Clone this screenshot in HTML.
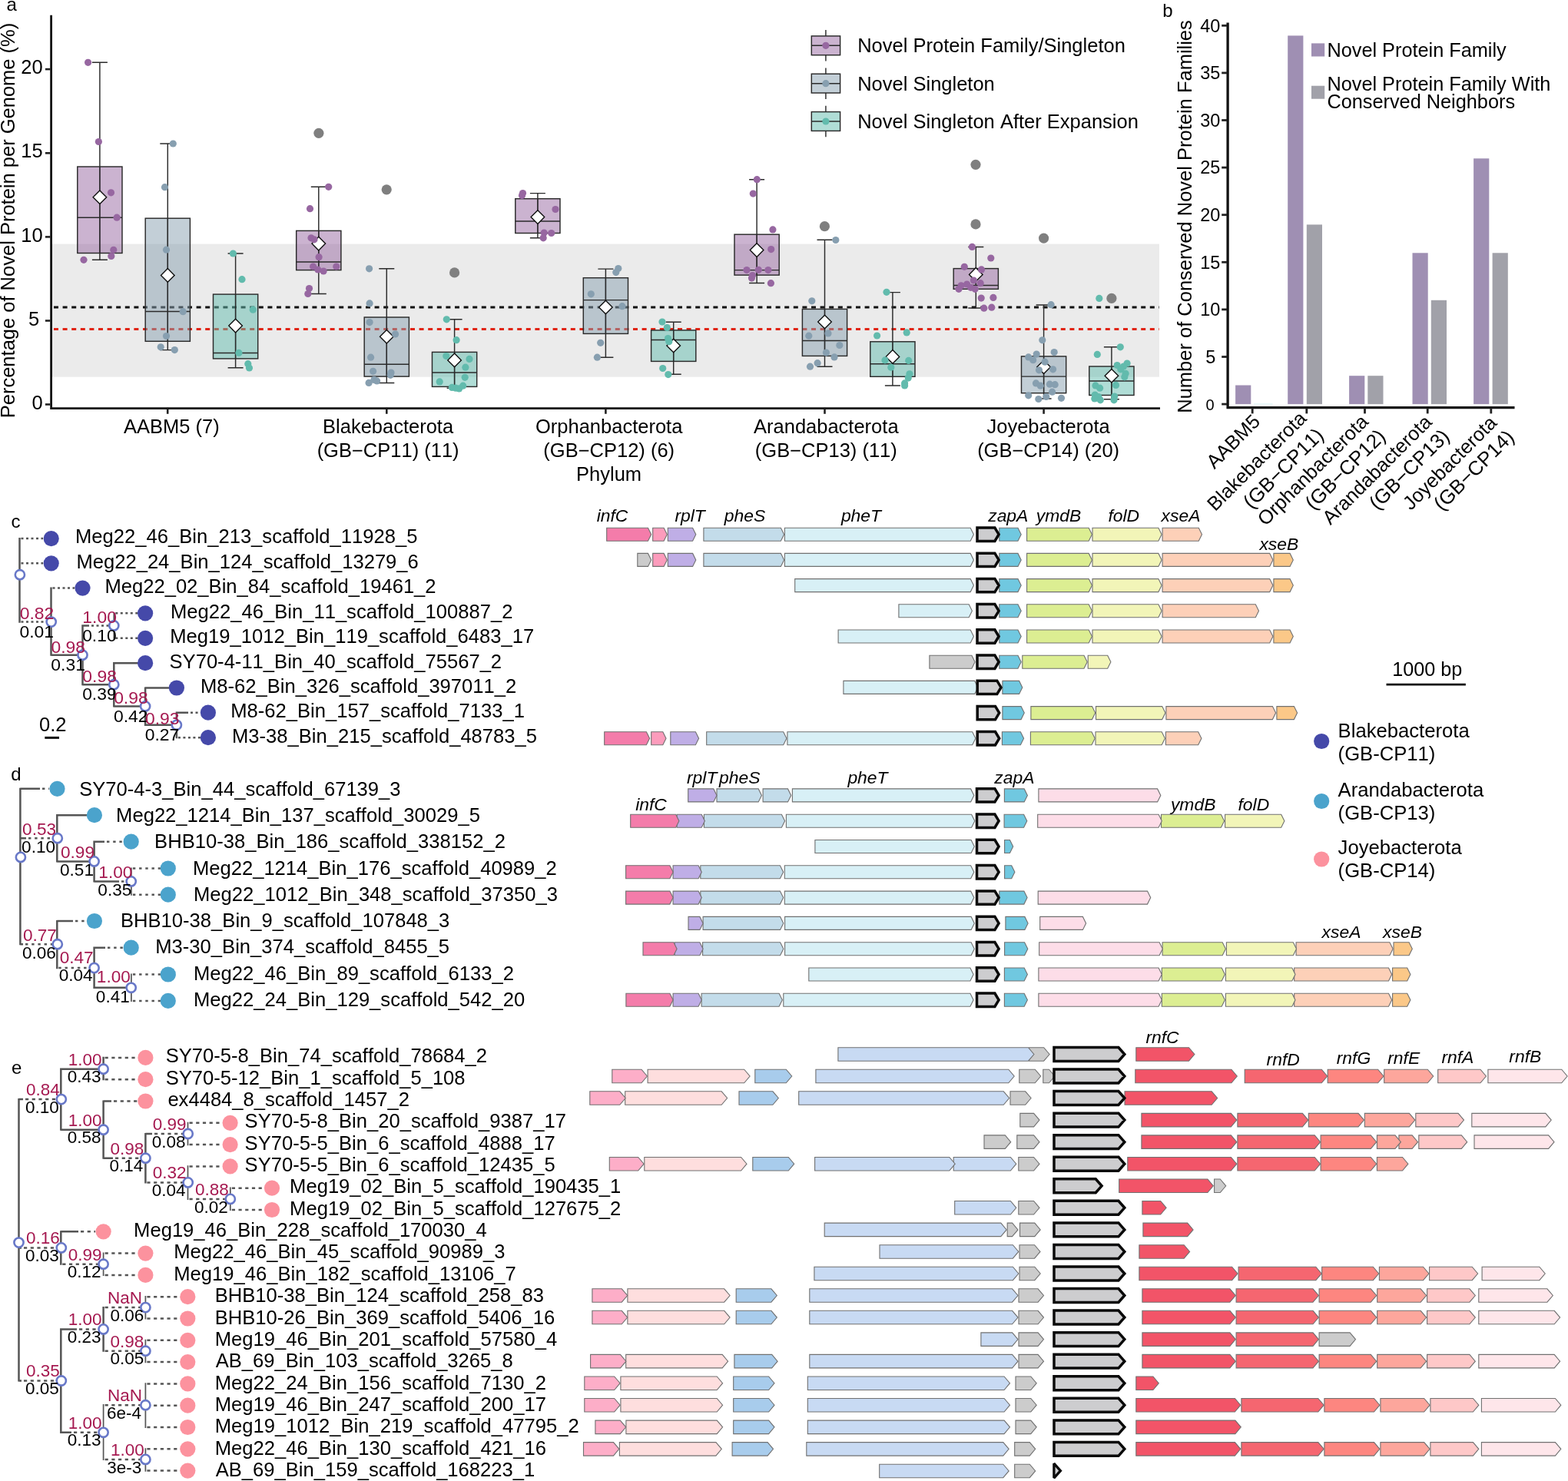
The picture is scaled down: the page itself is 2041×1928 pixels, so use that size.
<!DOCTYPE html>
<html lang="en"><head><meta charset="utf-8"><title>Figure</title>
<style>
html,body{margin:0;padding:0;background:#fff;width:2041px;height:1928px;overflow:hidden;}
svg{display:block;font-family:"Liberation Sans",Arial,Helvetica,sans-serif;fill:#000;font-kerning:none;}
</style></head>
<body>
<svg width="2041" height="1928" viewBox="0 0 2041 1928">
<rect width="2041" height="1928" fill="#fff"/>
<rect x="68" y="317.6" width="1441" height="173.1" fill="#ebebeb"/>
<line x1="68" y1="399.9" x2="1509" y2="399.9" stroke="#111" stroke-width="3" stroke-dasharray="6 5.6" stroke-dashoffset="-2"/>
<line x1="68" y1="428.5" x2="1509" y2="428.5" stroke="#e02414" stroke-width="3" stroke-dasharray="6 5.6" stroke-dashoffset="-2"/>
<path d="M119.9 81.3H139.9M119.9 338.3H139.9M129.9 81.3V338.3" stroke="#2b2b2b" stroke-width="1.45" fill="none"/><rect x="100.8" y="217" width="58.2" height="112.5" fill="#9767a1" fill-opacity="0.5" stroke="#2b2b2b" stroke-width="1.45"/><path d="M100.8 283.2H159M129.9 217V329.5" stroke="#2b2b2b" stroke-width="1.45" fill="none"/>
<path d="M208.3 187H228.3M208.3 455.6H228.3M218.3 187V455.6" stroke="#2b2b2b" stroke-width="1.45" fill="none"/><rect x="189.2" y="284.2" width="58.2" height="160.1" fill="#879fb0" fill-opacity="0.5" stroke="#2b2b2b" stroke-width="1.45"/><path d="M189.2 405.5H247.4M218.3 284.2V444.3" stroke="#2b2b2b" stroke-width="1.45" fill="none"/>
<path d="M296.6 330H316.6M296.6 478.7H316.6M306.6 330V478.7" stroke="#2b2b2b" stroke-width="1.45" fill="none"/><rect x="277.5" y="383.1" width="58.2" height="83.8" fill="#62bbad" fill-opacity="0.5" stroke="#2b2b2b" stroke-width="1.45"/><path d="M277.5 459.4H335.7M306.6 383.1V466.9" stroke="#2b2b2b" stroke-width="1.45" fill="none"/>
<path d="M404.8 243.3H424.8M404.8 382.5H424.8M414.8 243.3V382.5" stroke="#2b2b2b" stroke-width="1.45" fill="none"/><circle cx="414.9" cy="173.3" r="6.6" fill="#7f7f7f"/><rect x="385.7" y="300.4" width="58.2" height="51.2" fill="#9767a1" fill-opacity="0.5" stroke="#2b2b2b" stroke-width="1.45"/><path d="M385.7 341H443.9M414.8 300.4V351.6" stroke="#2b2b2b" stroke-width="1.45" fill="none"/>
<path d="M493.3 349.8H513.3M493.3 498.4H513.3M503.3 349.8V498.4" stroke="#2b2b2b" stroke-width="1.45" fill="none"/><circle cx="503.2" cy="246.8" r="6.6" fill="#7f7f7f"/><rect x="474.2" y="413" width="58.2" height="77.1" fill="#879fb0" fill-opacity="0.5" stroke="#2b2b2b" stroke-width="1.45"/><path d="M474.2 474.2H532.4M503.3 413V490.1" stroke="#2b2b2b" stroke-width="1.45" fill="none"/>
<path d="M581.6 415.8H601.6M581.6 505.2H601.6M591.6 415.8V505.2" stroke="#2b2b2b" stroke-width="1.45" fill="none"/><circle cx="591.6" cy="354.9" r="6.6" fill="#7f7f7f"/><rect x="562.5" y="458.4" width="58.2" height="45" fill="#62bbad" fill-opacity="0.5" stroke="#2b2b2b" stroke-width="1.45"/><path d="M562.5 485H620.7M591.6 458.4V503.4" stroke="#2b2b2b" stroke-width="1.45" fill="none"/>
<path d="M689.9 251.6H709.9M689.9 309.8H709.9M699.9 251.6V309.8" stroke="#2b2b2b" stroke-width="1.45" fill="none"/><rect x="670.8" y="258.7" width="58.2" height="44.8" fill="#9767a1" fill-opacity="0.5" stroke="#2b2b2b" stroke-width="1.45"/><path d="M670.8 287.9H729M699.9 258.7V303.5" stroke="#2b2b2b" stroke-width="1.45" fill="none"/>
<path d="M778.4 350.1H798.4M778.4 465.2H798.4M788.4 350.1V465.2" stroke="#2b2b2b" stroke-width="1.45" fill="none"/><rect x="759.3" y="361.7" width="58.2" height="72.7" fill="#879fb0" fill-opacity="0.5" stroke="#2b2b2b" stroke-width="1.45"/><path d="M759.3 390.6H817.5M788.4 361.7V434.4" stroke="#2b2b2b" stroke-width="1.45" fill="none"/>
<path d="M866.7 419.3H886.7M866.7 487.3H886.7M876.7 419.3V487.3" stroke="#2b2b2b" stroke-width="1.45" fill="none"/><rect x="847.6" y="429.9" width="58.2" height="40.5" fill="#62bbad" fill-opacity="0.5" stroke="#2b2b2b" stroke-width="1.45"/><path d="M847.6 442.5H905.8M876.7 429.9V470.4" stroke="#2b2b2b" stroke-width="1.45" fill="none"/>
<path d="M975.1 233.7H995.1M975.1 368.4H995.1M985.1 233.7V368.4" stroke="#2b2b2b" stroke-width="1.45" fill="none"/><rect x="956" y="305.2" width="58.2" height="52.9" fill="#9767a1" fill-opacity="0.5" stroke="#2b2b2b" stroke-width="1.45"/><path d="M956 351.6H1014.2M985.1 305.2V358.1" stroke="#2b2b2b" stroke-width="1.45" fill="none"/>
<path d="M1063.5 312.3H1083.5M1063.5 477.2H1083.5M1073.5 312.3V477.2" stroke="#2b2b2b" stroke-width="1.45" fill="none"/><circle cx="1073.4" cy="294.7" r="6.6" fill="#7f7f7f"/><rect x="1044.4" y="402.4" width="58.2" height="61" fill="#879fb0" fill-opacity="0.5" stroke="#2b2b2b" stroke-width="1.45"/><path d="M1044.4 443.5H1102.6M1073.5 402.4V463.4" stroke="#2b2b2b" stroke-width="1.45" fill="none"/>
<path d="M1151.9 380.6H1171.9M1151.9 501.9H1171.9M1161.9 380.6V501.9" stroke="#2b2b2b" stroke-width="1.45" fill="none"/><rect x="1132.8" y="444.8" width="58.2" height="45.5" fill="#62bbad" fill-opacity="0.5" stroke="#2b2b2b" stroke-width="1.45"/><path d="M1132.8 473.7H1191M1161.9 444.8V490.3" stroke="#2b2b2b" stroke-width="1.45" fill="none"/>
<path d="M1260.3 321.4H1280.3M1260.3 401H1280.3M1270.3 321.4V401" stroke="#2b2b2b" stroke-width="1.45" fill="none"/><circle cx="1270" cy="214.3" r="6.6" fill="#7f7f7f"/><circle cx="1270" cy="291.9" r="6.6" fill="#7f7f7f"/><rect x="1241.2" y="349.6" width="58.2" height="26.7" fill="#9767a1" fill-opacity="0.5" stroke="#2b2b2b" stroke-width="1.45"/><path d="M1241.2 371.5H1299.4M1270.3 349.6V376.3" stroke="#2b2b2b" stroke-width="1.45" fill="none"/>
<path d="M1348.6 396.9H1368.6M1348.6 519H1368.6M1358.6 396.9V519" stroke="#2b2b2b" stroke-width="1.45" fill="none"/><circle cx="1358.6" cy="310.1" r="6.6" fill="#7f7f7f"/><rect x="1329.5" y="463.9" width="58.2" height="47.8" fill="#879fb0" fill-opacity="0.5" stroke="#2b2b2b" stroke-width="1.45"/><path d="M1329.5 490.1H1387.7M1358.6 463.9V511.7" stroke="#2b2b2b" stroke-width="1.45" fill="none"/>
<path d="M1436.9 451.8H1456.9M1436.9 519.8H1456.9M1446.9 451.8V519.8" stroke="#2b2b2b" stroke-width="1.45" fill="none"/><circle cx="1446.9" cy="388.4" r="6.6" fill="#7f7f7f"/><rect x="1417.8" y="477" width="58.2" height="37.5" fill="#62bbad" fill-opacity="0.5" stroke="#2b2b2b" stroke-width="1.45"/><path d="M1417.8 495.9H1476M1446.9 477V514.5" stroke="#2b2b2b" stroke-width="1.45" fill="none"/>
<path d="M129.9 248L138.7 256.8L129.9 265.6L121.1 256.8Z" fill="#fff" stroke="#111" stroke-width="1.4"/>
<path d="M218.3 349.6L227.1 358.4L218.3 367.2L209.5 358.4Z" fill="#fff" stroke="#111" stroke-width="1.4"/>
<path d="M306.6 415.3L315.4 424.1L306.6 432.9L297.8 424.1Z" fill="#fff" stroke="#111" stroke-width="1.4"/>
<path d="M414.8 308.3L423.6 317.1L414.8 325.9L406 317.1Z" fill="#fff" stroke="#111" stroke-width="1.4"/>
<path d="M503.3 429.4L512.1 438.2L503.3 447L494.5 438.2Z" fill="#fff" stroke="#111" stroke-width="1.4"/>
<path d="M591.6 460.1L600.4 468.9L591.6 477.7L582.8 468.9Z" fill="#fff" stroke="#111" stroke-width="1.4"/>
<path d="M699.9 273.8L708.7 282.6L699.9 291.4L691.1 282.6Z" fill="#fff" stroke="#111" stroke-width="1.4"/>
<path d="M788.4 391.2L797.2 400L788.4 408.8L779.6 400Z" fill="#fff" stroke="#111" stroke-width="1.4"/>
<path d="M876.7 441.2L885.5 450L876.7 458.8L867.9 450Z" fill="#fff" stroke="#111" stroke-width="1.4"/>
<path d="M985.1 316.8L993.9 325.6L985.1 334.4L976.3 325.6Z" fill="#fff" stroke="#111" stroke-width="1.4"/>
<path d="M1073.5 410.2L1082.3 419L1073.5 427.8L1064.7 419Z" fill="#fff" stroke="#111" stroke-width="1.4"/>
<path d="M1161.9 455.6L1170.7 464.4L1161.9 473.2L1153.1 464.4Z" fill="#fff" stroke="#111" stroke-width="1.4"/>
<path d="M1270.3 348.6L1279.1 357.4L1270.3 366.2L1261.5 357.4Z" fill="#fff" stroke="#111" stroke-width="1.4"/>
<path d="M1358.6 468.9L1367.4 477.7L1358.6 486.5L1349.8 477.7Z" fill="#fff" stroke="#111" stroke-width="1.4"/>
<path d="M1446.9 480.5L1455.7 489.3L1446.9 498.1L1438.1 489.3Z" fill="#fff" stroke="#111" stroke-width="1.4"/>
<g fill="#9767a1"><circle cx="114.6" cy="81.3" r="4.6"/><circle cx="128.4" cy="184.5" r="4.6"/><circle cx="144.5" cy="250.8" r="4.6"/><circle cx="152.1" cy="283.2" r="4.6"/><circle cx="147.8" cy="325.3" r="4.6"/><circle cx="144.8" cy="333.5" r="4.6"/><circle cx="109" cy="338.3" r="4.6"/></g>
<g fill="#879fb0"><circle cx="225.3" cy="187" r="4.6"/><circle cx="214.5" cy="243.7" r="4.6"/><circle cx="216.5" cy="325.2" r="4.6"/><circle cx="238.2" cy="405.7" r="4.6"/><circle cx="216.5" cy="437.5" r="4.6"/><circle cx="209.2" cy="451.8" r="4.6"/><circle cx="227.3" cy="455.6" r="4.6"/></g>
<g fill="#62bbad"><circle cx="303.4" cy="330" r="4.6"/><circle cx="315" cy="363.7" r="4.6"/><circle cx="329.3" cy="403.2" r="4.6"/><circle cx="310.9" cy="459.4" r="4.6"/><circle cx="322.8" cy="473.7" r="4.6"/><circle cx="324.5" cy="479" r="4.6"/></g>
<g fill="#9767a1"><circle cx="427.7" cy="243.3" r="4.6"/><circle cx="403.5" cy="271.7" r="4.6"/><circle cx="405" cy="309.8" r="4.6"/><circle cx="409" cy="311.8" r="4.6"/><circle cx="415.1" cy="334.7" r="4.6"/><circle cx="407.6" cy="347" r="4.6"/><circle cx="437.8" cy="347" r="4.6"/><circle cx="413.8" cy="351" r="4.6"/><circle cx="421.1" cy="353" r="4.6"/><circle cx="402.5" cy="375.5" r="4.6"/><circle cx="400.8" cy="382.5" r="4.6"/></g>
<g fill="#879fb0"><circle cx="480.6" cy="349.8" r="4.6"/><circle cx="481.1" cy="394.9" r="4.6"/><circle cx="481.1" cy="419.6" r="4.6"/><circle cx="514.6" cy="434.9" r="4.6"/><circle cx="482.6" cy="465.2" r="4.6"/><circle cx="485.6" cy="483.3" r="4.6"/><circle cx="509" cy="485" r="4.6"/><circle cx="508.3" cy="488.3" r="4.6"/><circle cx="486.9" cy="494.4" r="4.6"/><circle cx="480.1" cy="498.4" r="4.6"/><circle cx="490.6" cy="495.9" r="4.6"/></g>
<g fill="#62bbad"><circle cx="581.3" cy="415.8" r="4.6"/><circle cx="594.1" cy="442.7" r="4.6"/><circle cx="580.8" cy="463.6" r="4.6"/><circle cx="611" cy="467.4" r="4.6"/><circle cx="605.9" cy="478.2" r="4.6"/><circle cx="605.2" cy="491.3" r="4.6"/><circle cx="572.2" cy="496.9" r="4.6"/><circle cx="602.7" cy="502.2" r="4.6"/><circle cx="588.3" cy="504.4" r="4.6"/><circle cx="593.1" cy="505.2" r="4.6"/><circle cx="597.6" cy="505.9" r="4.6"/></g>
<g fill="#9767a1"><circle cx="680.5" cy="251.6" r="4.6"/><circle cx="679.5" cy="254.6" r="4.6"/><circle cx="723" cy="272.5" r="4.6"/><circle cx="708.2" cy="303" r="4.6"/><circle cx="717.7" cy="303.5" r="4.6"/><circle cx="707.2" cy="309.8" r="4.6"/></g>
<g fill="#879fb0"><circle cx="804.8" cy="349.6" r="4.6"/><circle cx="801.8" cy="354.6" r="4.6"/><circle cx="769.3" cy="382.8" r="4.6"/><circle cx="809.9" cy="398.7" r="4.6"/><circle cx="781.7" cy="446.3" r="4.6"/><circle cx="777.4" cy="465.2" r="4.6"/></g>
<g fill="#62bbad"><circle cx="862" cy="419.1" r="4.6"/><circle cx="868.3" cy="426.6" r="4.6"/><circle cx="869.5" cy="440.5" r="4.6"/><circle cx="870.8" cy="444.8" r="4.6"/><circle cx="862.7" cy="479.5" r="4.6"/><circle cx="869.8" cy="487.6" r="4.6"/></g>
<g fill="#9767a1"><circle cx="985.3" cy="233.7" r="4.6"/><circle cx="980.3" cy="252.1" r="4.6"/><circle cx="1005.9" cy="298.9" r="4.6"/><circle cx="1003.7" cy="324.6" r="4.6"/><circle cx="972" cy="351.6" r="4.6"/><circle cx="987.3" cy="351.3" r="4.6"/><circle cx="999.9" cy="351.6" r="4.6"/><circle cx="979.5" cy="358.6" r="4.6"/><circle cx="978.5" cy="362.1" r="4.6"/><circle cx="1003.4" cy="368.7" r="4.6"/></g>
<g fill="#879fb0"><circle cx="1087.8" cy="312.5" r="4.6"/><circle cx="1056.8" cy="391.8" r="4.6"/><circle cx="1052.8" cy="437.2" r="4.6"/><circle cx="1078" cy="433.9" r="4.6"/><circle cx="1092.8" cy="449.5" r="4.6"/><circle cx="1075.4" cy="459.1" r="4.6"/><circle cx="1086" cy="464.9" r="4.6"/><circle cx="1064.1" cy="472.7" r="4.6"/><circle cx="1054.5" cy="477.2" r="4.6"/></g>
<g fill="#62bbad"><circle cx="1154" cy="380.3" r="4.6"/><circle cx="1180.2" cy="432.9" r="4.6"/><circle cx="1141.6" cy="437" r="4.6"/><circle cx="1152" cy="468.9" r="4.6"/><circle cx="1182.7" cy="469.4" r="4.6"/><circle cx="1159.8" cy="478.2" r="4.6"/><circle cx="1183.9" cy="486.8" r="4.6"/><circle cx="1182.2" cy="492.1" r="4.6"/><circle cx="1177.6" cy="498.9" r="4.6"/><circle cx="1177.6" cy="501.9" r="4.6"/></g>
<g fill="#9767a1"><circle cx="1265.4" cy="321.4" r="4.6"/><circle cx="1289.8" cy="336" r="4.6"/><circle cx="1255.3" cy="347.3" r="4.6"/><circle cx="1277.5" cy="350.9" r="4.6"/><circle cx="1267.4" cy="365" r="4.6"/><circle cx="1276.2" cy="368.7" r="4.6"/><circle cx="1258.6" cy="370" r="4.6"/><circle cx="1251.1" cy="371.8" r="4.6"/><circle cx="1263.6" cy="374.3" r="4.6"/><circle cx="1269.2" cy="376.3" r="4.6"/><circle cx="1248" cy="376.3" r="4.6"/><circle cx="1277.2" cy="388.1" r="4.6"/><circle cx="1292.9" cy="387.4" r="4.6"/><circle cx="1280.8" cy="401.2" r="4.6"/><circle cx="1290.8" cy="400.2" r="4.6"/></g>
<g fill="#879fb0"><circle cx="1368.1" cy="396.7" r="4.6"/><circle cx="1356.8" cy="442.8" r="4.6"/><circle cx="1372.2" cy="458.6" r="4.6"/><circle cx="1349.2" cy="461.1" r="4.6"/><circle cx="1338.7" cy="464.9" r="4.6"/><circle cx="1344.7" cy="468.7" r="4.6"/><circle cx="1360.1" cy="471.2" r="4.6"/><circle cx="1352.5" cy="481.8" r="4.6"/><circle cx="1370.6" cy="480.8" r="4.6"/><circle cx="1348.5" cy="498.9" r="4.6"/><circle cx="1354.3" cy="502.2" r="4.6"/><circle cx="1366.4" cy="500.2" r="4.6"/><circle cx="1373.2" cy="500.7" r="4.6"/><circle cx="1369.6" cy="510.2" r="4.6"/><circle cx="1338.7" cy="514.8" r="4.6"/><circle cx="1361.8" cy="516.5" r="4.6"/><circle cx="1351.8" cy="519.5" r="4.6"/><circle cx="1381.5" cy="518.3" r="4.6"/></g>
<g fill="#62bbad"><circle cx="1430.8" cy="388.4" r="4.6"/><circle cx="1458.3" cy="451.8" r="4.6"/><circle cx="1428.3" cy="461.4" r="4.6"/><circle cx="1467.1" cy="473" r="4.6"/><circle cx="1454.2" cy="475.5" r="4.6"/><circle cx="1462.5" cy="477" r="4.6"/><circle cx="1458.8" cy="480.8" r="4.6"/><circle cx="1465.1" cy="486.3" r="4.6"/><circle cx="1463.8" cy="490.8" r="4.6"/><circle cx="1426" cy="501.9" r="4.6"/><circle cx="1452.5" cy="501.4" r="4.6"/><circle cx="1431.6" cy="505.2" r="4.6"/><circle cx="1425.3" cy="514" r="4.6"/><circle cx="1429.8" cy="516.5" r="4.6"/><circle cx="1450.7" cy="516" r="4.6"/><circle cx="1424.8" cy="519" r="4.6"/><circle cx="1432.3" cy="520.8" r="4.6"/><circle cx="1450" cy="520.8" r="4.6"/></g>
<path d="M66.6 19.8V533M65.2 531.6H1510" stroke="#111" stroke-width="2.8" fill="none"/>
<line x1="58.9" y1="526.5" x2="65.5" y2="526.5" stroke="#222" stroke-width="2.6"/>
<text x="55.6" y="532.6" text-anchor="end" font-size="25.5">0</text>
<line x1="58.9" y1="417.5" x2="65.5" y2="417.5" stroke="#222" stroke-width="2.6"/>
<text x="51.300000000000004" y="423.6" text-anchor="end" font-size="25.5">5</text>
<line x1="58.9" y1="308.4" x2="65.5" y2="308.4" stroke="#222" stroke-width="2.6"/>
<text x="55.6" y="314.5" text-anchor="end" font-size="25.5">10</text>
<line x1="58.9" y1="199.3" x2="65.5" y2="199.3" stroke="#222" stroke-width="2.6"/>
<text x="55.6" y="205.4" text-anchor="end" font-size="25.5">15</text>
<line x1="58.9" y1="90.1" x2="65.5" y2="90.1" stroke="#222" stroke-width="2.6"/>
<text x="55.6" y="96.2" text-anchor="end" font-size="25.5">20</text>
<line x1="218.2" y1="532" x2="218.2" y2="538.8" stroke="#222" stroke-width="2.6"/>
<text x="223.4" y="563.8" text-anchor="middle" font-size="25.5">AABM5 (7)</text>
<line x1="503.3" y1="532" x2="503.3" y2="538.8" stroke="#222" stroke-width="2.6"/>
<text x="505.1" y="563.8" text-anchor="middle" font-size="25.5">Blakebacterota</text>
<text x="505.1" y="594.6" text-anchor="middle" font-size="25.5">(GB−CP11) (11)</text>
<line x1="788.4" y1="532" x2="788.4" y2="538.8" stroke="#222" stroke-width="2.6"/>
<text x="792.7" y="563.8" text-anchor="middle" font-size="25.5">Orphanbacterota</text>
<text x="792.7" y="594.6" text-anchor="middle" font-size="25.5">(GB−CP12) (6)</text>
<line x1="1073.5" y1="532" x2="1073.5" y2="538.8" stroke="#222" stroke-width="2.6"/>
<text x="1075.3" y="563.8" text-anchor="middle" font-size="25.5">Arandabacterota</text>
<text x="1075.3" y="594.6" text-anchor="middle" font-size="25.5">(GB−CP13) (11)</text>
<line x1="1358.6" y1="532" x2="1358.6" y2="538.8" stroke="#222" stroke-width="2.6"/>
<text x="1364.6" y="563.8" text-anchor="middle" font-size="25.5">Joyebacterota</text>
<text x="1364.6" y="594.6" text-anchor="middle" font-size="25.5">(GB−CP14) (20)</text>
<text x="792.6" y="625.6" text-anchor="middle" font-size="25.5">Phylum</text>
<text transform="translate(19.3 287) rotate(-90)" text-anchor="middle" font-size="25.5">Percentage of Novel Protein per Genome (%)</text>
<text x="8.5" y="13.5" font-size="24">a</text>
<path d="M1074.9 39V79.6" stroke="#2b2b2b" stroke-width="1.45"/>
<rect x="1056.3" y="46.9" width="37.3" height="24.8" fill="#fff"/>
<rect x="1056.3" y="46.9" width="37.3" height="24.8" fill="#9767a1" fill-opacity="0.5" stroke="#2b2b2b" stroke-width="1.45"/>
<path d="M1056.3 59.3H1093.6" stroke="#2b2b2b" stroke-width="1.45"/>
<circle cx="1074.9" cy="59.3" r="4.6" fill="#9767a1"/>
<text x="1116.2" y="68.4" font-size="25.5">Novel Protein Family/Singleton</text>
<path d="M1074.9 88.4V129" stroke="#2b2b2b" stroke-width="1.45"/>
<rect x="1056.3" y="96.2" width="37.3" height="24.8" fill="#fff"/>
<rect x="1056.3" y="96.2" width="37.3" height="24.8" fill="#879fb0" fill-opacity="0.5" stroke="#2b2b2b" stroke-width="1.45"/>
<path d="M1056.3 108.7H1093.6" stroke="#2b2b2b" stroke-width="1.45"/>
<circle cx="1074.9" cy="108.7" r="4.6" fill="#879fb0"/>
<text x="1116.2" y="117.8" font-size="25.5">Novel Singleton</text>
<path d="M1074.9 137.7V178.3" stroke="#2b2b2b" stroke-width="1.45"/>
<rect x="1056.3" y="145.6" width="37.3" height="24.8" fill="#fff"/>
<rect x="1056.3" y="145.6" width="37.3" height="24.8" fill="#62bbad" fill-opacity="0.5" stroke="#2b2b2b" stroke-width="1.45"/>
<path d="M1056.3 158H1093.6" stroke="#2b2b2b" stroke-width="1.45"/>
<circle cx="1074.9" cy="158" r="4.6" fill="#62bbad"/>
<text x="1116.2" y="167.1" font-size="25.5">Novel Singleton After Expansion</text>
<rect x="1608.1" y="501.5" width="20.2" height="24.6" fill="#9f8fb3"/>
<rect x="1676.2" y="46.4" width="20.2" height="479.7" fill="#9f8fb3"/>
<rect x="1700.8" y="292.4" width="20.2" height="233.7" fill="#a1a1a9"/>
<rect x="1756.1" y="489.2" width="20.2" height="36.9" fill="#9f8fb3"/>
<rect x="1780.3" y="489.2" width="20.2" height="36.9" fill="#a1a1a9"/>
<rect x="1838.5" y="329.3" width="20.2" height="196.8" fill="#9f8fb3"/>
<rect x="1862.8" y="390.8" width="20.2" height="135.3" fill="#a1a1a9"/>
<rect x="1918.1" y="206.3" width="20.2" height="319.8" fill="#9f8fb3"/>
<rect x="1942.6" y="329.3" width="20.2" height="196.8" fill="#a1a1a9"/>
<rect x="1632" y="525.6" width="24.6" height="0.7" fill="#c9eef0"/><path d="M1598.1 29.4V532.3M1596.5 530.6H1971.5" stroke="#111" stroke-width="3.3" fill="none"/>
<line x1="1590.2" y1="526.1" x2="1597" y2="526.1" stroke="#222" stroke-width="2.8"/>
<text x="1580.6" y="533.7" text-anchor="end" font-size="20">0</text>
<line x1="1590.2" y1="464.5" x2="1597" y2="464.5" stroke="#222" stroke-width="2.8"/>
<text x="1582.3" y="472.8" text-anchor="end" font-size="23.5">5</text>
<line x1="1590.2" y1="402.9" x2="1597" y2="402.9" stroke="#222" stroke-width="2.8"/>
<text x="1588.3" y="411.2" text-anchor="end" font-size="23.5">10</text>
<line x1="1590.2" y1="341.3" x2="1597" y2="341.3" stroke="#222" stroke-width="2.8"/>
<text x="1588.3" y="349.6" text-anchor="end" font-size="23.5">15</text>
<line x1="1590.2" y1="279.7" x2="1597" y2="279.7" stroke="#222" stroke-width="2.8"/>
<text x="1588.3" y="288" text-anchor="end" font-size="23.5">20</text>
<line x1="1590.2" y1="218.1" x2="1597" y2="218.1" stroke="#222" stroke-width="2.8"/>
<text x="1588.3" y="226.4" text-anchor="end" font-size="23.5">25</text>
<line x1="1590.2" y1="156.5" x2="1597" y2="156.5" stroke="#222" stroke-width="2.8"/>
<text x="1588.3" y="164.8" text-anchor="end" font-size="23.5">30</text>
<line x1="1590.2" y1="94.9" x2="1597" y2="94.9" stroke="#222" stroke-width="2.8"/>
<text x="1588.3" y="103.2" text-anchor="end" font-size="23.5">35</text>
<line x1="1590.2" y1="33.3" x2="1597" y2="33.3" stroke="#222" stroke-width="2.8"/>
<text x="1588.3" y="41.6" text-anchor="end" font-size="23.5">40</text>
<text transform="translate(1550.5 282) rotate(-90)" text-anchor="middle" font-size="25.5">Number of Conserved Novel Protein Families</text>
<text x="1513.3" y="22" font-size="24">b</text>
<rect x="1707" y="56.4" width="17.2" height="17.1" fill="#9f8fb3"/>
<rect x="1707" y="111.7" width="17.2" height="17" fill="#a1a1a9"/>
<text x="1727.4" y="73.8" font-size="25.3">Novel Protein Family</text>
<text x="1727.4" y="117.7" font-size="25.3">Novel Protein Family With</text>
<text x="1727.4" y="141.4" font-size="25.3">Conserved Neighbors</text>
<line x1="1630.2" y1="531" x2="1630.2" y2="538.4" stroke="#222" stroke-width="2.8"/>
<text transform="translate(1641.8 550.3) rotate(-45)" text-anchor="end" font-size="25.5">AABM5</text>
<line x1="1700.8" y1="531" x2="1700.8" y2="538.4" stroke="#222" stroke-width="2.8"/>
<text transform="translate(1702 546.2) rotate(-45)" text-anchor="end" font-size="25.5">Blakebacterota</text>
<text transform="translate(1724.3 568) rotate(-45)" text-anchor="end" font-size="26">(GB−CP11)</text>
<line x1="1776.5" y1="531" x2="1776.5" y2="538.4" stroke="#222" stroke-width="2.8"/>
<text transform="translate(1782.5 550.5) rotate(-45)" text-anchor="end" font-size="25.5">Orphanbacterota</text>
<text transform="translate(1805 569.5) rotate(-45)" text-anchor="end" font-size="26">(GB−CP12)</text>
<line x1="1858.2" y1="531" x2="1858.2" y2="538.4" stroke="#222" stroke-width="2.8"/>
<text transform="translate(1865.2 551) rotate(-45)" text-anchor="end" font-size="25.5">Arandabacterota</text>
<text transform="translate(1888.2 569.5) rotate(-45)" text-anchor="end" font-size="26">(GB−CP13)</text>
<line x1="1940.8" y1="531" x2="1940.8" y2="538.4" stroke="#222" stroke-width="2.8"/>
<text transform="translate(1949.8 552) rotate(-45)" text-anchor="end" font-size="25.5">Joyebacterota</text>
<text transform="translate(1972.3 570.5) rotate(-45)" text-anchor="end" font-size="26">(GB−CP14)</text>
<g stroke="#707070" stroke-width="1.1" stroke-linejoin="miter"><path d="M1513.1 687.2H1560.3L1564.5 695.7L1560.3 704.2H1513.1Z" fill="#fdd0b8"/><path d="M1422 687.2H1507.9L1512.1 695.7L1507.9 704.2H1422Z" fill="#f2f5b8"/><path d="M1336.6 687.2H1417.2L1421.4 695.7L1417.2 704.2H1336.6Z" fill="#dcee92"/><path d="M1300.8 687.2H1325L1329.2 695.7L1325 704.2H1300.8Z" fill="#70c8e0"/><path d="M1021.4 687.2H1263.2L1267.4 695.7L1263.2 704.2H1021.4Z" fill="#d8f0f6"/><path d="M915.9 687.2H1016.4L1020.6 695.7L1016.4 704.2H915.9Z" fill="#c3dcea"/><path d="M869.3 687.2H901.6L905.8 695.7L901.6 704.2H869.3Z" fill="#bfaee6"/><path d="M849.7 687.2H864.1L868.3 695.7L864.1 704.2H849.7Z" fill="#fc9cbc"/><path d="M789.7 687.2H843.5L847.7 695.7L843.5 704.2H789.7Z" fill="#f47caa"/>
<path d="M1657.9 720.4H1679.1L1683.3 728.9L1679.1 737.4H1657.9Z" fill="#fbc888"/><path d="M1513.1 720.4H1652.7L1656.9 728.9L1652.7 737.4H1513.1Z" fill="#fdd0b8"/><path d="M1422 720.4H1507.9L1512.1 728.9L1507.9 737.4H1422Z" fill="#f2f5b8"/><path d="M1336.6 720.4H1417.2L1421.4 728.9L1417.2 737.4H1336.6Z" fill="#dcee92"/><path d="M1300.8 720.4H1325L1329.2 728.9L1325 737.4H1300.8Z" fill="#70c8e0"/><path d="M1021.4 720.4H1263.2L1267.4 728.9L1263.2 737.4H1021.4Z" fill="#d8f0f6"/><path d="M915.9 720.4H1016.4L1020.6 728.9L1016.4 737.4H915.9Z" fill="#c3dcea"/><path d="M869.3 720.4H901.6L905.8 728.9L901.6 737.4H869.3Z" fill="#bfaee6"/><path d="M849.7 720.4H864.1L868.3 728.9L864.1 737.4H849.7Z" fill="#fc9cbc"/><path d="M829.8 720.4H843.5L847.7 728.9L843.5 737.4H829.8Z" fill="#cccccc"/>
<path d="M1657.9 753.6H1679.1L1683.3 762.1L1679.1 770.6H1657.9Z" fill="#fbc888"/><path d="M1513.1 753.6H1652.7L1656.9 762.1L1652.7 770.6H1513.1Z" fill="#fdd0b8"/><path d="M1422 753.6H1507.9L1512.1 762.1L1507.9 770.6H1422Z" fill="#f2f5b8"/><path d="M1336.6 753.6H1417.2L1421.4 762.1L1417.2 770.6H1336.6Z" fill="#dcee92"/><path d="M1300.8 753.6H1325L1329.2 762.1L1325 770.6H1300.8Z" fill="#70c8e0"/><path d="M1034.7 753.6H1263.2L1267.4 762.1L1263.2 770.6H1034.7Z" fill="#d8f0f6"/>
<path d="M1513.1 786.8H1634.3L1638.5 795.3L1634.3 803.8H1513.1Z" fill="#fdd0b8"/><path d="M1422 786.8H1507.9L1512.1 795.3L1507.9 803.8H1422Z" fill="#f2f5b8"/><path d="M1336.6 786.8H1417.2L1421.4 795.3L1417.2 803.8H1336.6Z" fill="#dcee92"/><path d="M1300.8 786.8H1325L1329.2 795.3L1325 803.8H1300.8Z" fill="#70c8e0"/><path d="M1169.9 786.8H1261.2L1265.4 795.3L1261.2 803.8H1169.9Z" fill="#d8f0f6"/>
<path d="M1657.9 820H1679.1L1683.3 828.5L1679.1 837H1657.9Z" fill="#fbc888"/><path d="M1513.1 820H1652.7L1656.9 828.5L1652.7 837H1513.1Z" fill="#fdd0b8"/><path d="M1422 820H1507.9L1512.1 828.5L1507.9 837H1422Z" fill="#f2f5b8"/><path d="M1336.6 820H1417.2L1421.4 828.5L1417.2 837H1336.6Z" fill="#dcee92"/><path d="M1300.8 820H1325L1329.2 828.5L1325 837H1300.8Z" fill="#70c8e0"/><path d="M1091.1 820H1263.2L1267.4 828.5L1263.2 837H1091.1Z" fill="#d8f0f6"/>
<path d="M1416.2 853.2H1441.7L1445.9 861.7L1441.7 870.2H1416.2Z" fill="#f2f5b8"/><path d="M1330.8 853.2H1411L1415.2 861.7L1411 870.2H1330.8Z" fill="#dcee92"/><path d="M1300.8 853.2H1325L1329.2 861.7L1325 870.2H1300.8Z" fill="#70c8e0"/><path d="M1209.9 853.2H1264.9L1269.1 861.7L1264.9 870.2H1209.9Z" fill="#cccccc"/>
<path d="M1304.9 886.4H1326.6L1330.8 894.9L1326.6 903.4H1304.9Z" fill="#70c8e0"/><path d="M1097.9 886.4H1268.7L1272.9 894.9L1268.7 903.4H1097.9Z" fill="#d8f0f6"/>
<path d="M1661.9 919.6H1684.4L1688.6 928.1L1684.4 936.6H1661.9Z" fill="#fbc888"/><path d="M1517.9 919.6H1656.4L1660.6 928.1L1656.4 936.6H1517.9Z" fill="#fdd0b8"/><path d="M1426.5 919.6H1512.7L1516.9 928.1L1512.7 936.6H1426.5Z" fill="#f2f5b8"/><path d="M1341.9 919.6H1421.5L1425.7 928.1L1421.5 936.6H1341.9Z" fill="#dcee92"/><path d="M1304.9 919.6H1329.1L1333.3 928.1L1329.1 936.6H1304.9Z" fill="#70c8e0"/>
<path d="M1517.4 952.8H1559.7L1563.9 961.3L1559.7 969.8H1517.4Z" fill="#fdd0b8"/><path d="M1426 952.8H1512.2L1516.4 961.3L1512.2 969.8H1426Z" fill="#f2f5b8"/><path d="M1341.4 952.8H1421L1425.2 961.3L1421 969.8H1341.4Z" fill="#dcee92"/><path d="M1304.4 952.8H1328.4L1332.6 961.3L1328.4 969.8H1304.4Z" fill="#70c8e0"/><path d="M1024.9 952.8H1265.7L1269.9 961.3L1265.7 969.8H1024.9Z" fill="#d8f0f6"/><path d="M919.7 952.8H1019.7L1023.9 961.3L1019.7 969.8H919.7Z" fill="#c3dcea"/><path d="M872.8 952.8H905.4L909.6 961.3L905.4 969.8H872.8Z" fill="#bfaee6"/><path d="M847.7 952.8H862.8L867 961.3L862.8 969.8H847.7Z" fill="#fc9cbc"/><path d="M786.7 952.8H841.4L845.6 961.3L841.4 969.8H786.7Z" fill="#f47caa"/></g>
<path d="M1272 687H1294.9L1300.1 695.7L1294.9 704.4H1272ZM1272 720.2H1294.9L1300.1 728.9L1294.9 737.6H1272ZM1272 753.4H1294.9L1300.1 762.1L1294.9 770.8H1272ZM1272 786.6H1294.9L1300.1 795.3L1294.9 804H1272ZM1272 819.8H1294.9L1300.1 828.5L1294.9 837.2H1272ZM1272 853H1294.9L1300.1 861.7L1294.9 870.4H1272ZM1272.2 886.2H1297.8L1303 894.9L1297.8 903.6H1272.2ZM1272.2 919.4H1295.5L1300.7 928.1L1295.5 936.8H1272.2ZM1272.2 952.6H1295.5L1300.7 961.3L1295.5 970H1272.2Z" fill="#cdcdcf" stroke="#0a0a0a" stroke-width="3.5" stroke-linejoin="miter"/>
<g font-size="22.9" font-style="italic"><text x="776.7" y="679.2">infC</text><text x="878.4" y="679.2">rplT</text><text x="942.8" y="679.2">pheS</text><text x="1094.9" y="679.2">pheT</text><text x="1286.2" y="679">zapA</text><text x="1348.7" y="679">ymdB</text><text x="1442.4" y="679">folD</text><text x="1511.6" y="679">xseA</text><text x="1639.4" y="716">xseB</text></g>
<g stroke="#707070" stroke-width="1.1" stroke-linejoin="miter"><path d="M1351.9 1026.9H1506.6L1510.8 1035.4L1506.6 1043.9H1351.9Z" fill="#fddde8"/><path d="M1307.4 1026.9H1333.2L1337.4 1035.4L1333.2 1043.9H1307.4Z" fill="#70c8e0"/><path d="M1031.4 1026.9H1263.6L1267.8 1035.4L1263.6 1043.9H1031.4Z" fill="#d8f0f6"/><path d="M993.1 1026.9H1025.5L1029.7 1035.4L1025.5 1043.9H993.1Z" fill="#c3dcea"/><path d="M933 1026.9H987.2L991.4 1035.4L987.2 1043.9H933Z" fill="#c3dcea"/><path d="M895.7 1026.9H928.8L933 1035.4L928.8 1043.9H895.7Z" fill="#bfaee6"/>
<path d="M1594.6 1060.2H1667.7L1671.9 1068.7L1667.7 1077.2H1594.6Z" fill="#f2f5b8"/><path d="M1511.5 1060.2H1589.4L1593.6 1068.7L1589.4 1077.2H1511.5Z" fill="#dcee92"/><path d="M1350.7 1060.2H1508.1L1512.3 1068.7L1508.1 1077.2H1350.7Z" fill="#fddde8"/><path d="M1307.1 1060.2H1332.6L1336.8 1068.7L1332.6 1077.2H1307.1Z" fill="#70c8e0"/><path d="M1023.4 1060.2H1264.6L1268.8 1068.7L1264.6 1077.2H1023.4Z" fill="#d8f0f6"/><path d="M916.4 1060.2H1017.4L1021.6 1068.7L1017.4 1077.2H916.4Z" fill="#c3dcea"/><path d="M881.1 1060.2H913.2L917.4 1068.7L913.2 1077.2H881.1Z" fill="#bfaee6"/><path d="M820.7 1060.2H879.7L883.9 1068.7L879.7 1077.2H820.7Z" fill="#f47caa"/>
<path d="M1307.6 1093.5H1314.5L1318.7 1102L1314.5 1110.5H1307.6Z" fill="#70c8e0"/><path d="M1060.9 1093.5H1264.1L1268.3 1102L1264.1 1110.5H1060.9Z" fill="#d8f0f6"/>
<path d="M1307.6 1126.8H1316.7L1320.9 1135.3L1316.7 1143.8H1307.6Z" fill="#70c8e0"/><path d="M1021.3 1126.8H1263.6L1267.8 1135.3L1263.6 1143.8H1021.3Z" fill="#d8f0f6"/><path d="M911.8 1126.8H1015.4L1019.6 1135.3L1015.4 1143.8H911.8Z" fill="#c3dcea"/><path d="M876.1 1126.8H909.1L913.3 1135.3L909.1 1143.8H876.1Z" fill="#bfaee6"/><path d="M814.6 1126.8H871.9L876.1 1135.3L871.9 1143.8H814.6Z" fill="#f47caa"/>
<path d="M1351.2 1160.1H1493.5L1497.7 1168.6L1493.5 1177.1H1351.2Z" fill="#fddde8"/><path d="M1300.8 1160.1H1332.9L1337.1 1168.6L1332.9 1177.1H1300.8Z" fill="#70c8e0"/><path d="M1021.3 1160.1H1263.6L1267.8 1168.6L1263.6 1177.1H1021.3Z" fill="#d8f0f6"/><path d="M911.8 1160.1H1015.4L1019.6 1168.6L1015.4 1177.1H911.8Z" fill="#c3dcea"/><path d="M876.1 1160.1H909.1L913.3 1168.6L909.1 1177.1H876.1Z" fill="#bfaee6"/><path d="M814.6 1160.1H871.9L876.1 1168.6L871.9 1177.1H814.6Z" fill="#f47caa"/>
<path d="M1353.7 1193.4H1409.4L1413.6 1201.9L1409.4 1210.4H1353.7Z" fill="#fddde8"/><path d="M1308.9 1193.4H1333.9L1338.1 1201.9L1333.9 1210.4H1308.9Z" fill="#70c8e0"/><path d="M1021.6 1193.4H1264.1L1268.3 1201.9L1264.1 1210.4H1021.6Z" fill="#d8f0f6"/><path d="M915.1 1193.4H1015.6L1019.8 1201.9L1015.6 1210.4H915.1Z" fill="#c3dcea"/><path d="M896 1193.4H910.9L915.1 1201.9L910.9 1210.4H896Z" fill="#bfaee6"/>
<path d="M1814 1226.7H1834.1L1838.3 1235.2L1834.1 1243.7H1814Z" fill="#fbc888"/><path d="M1687.1 1226.7H1808.9L1813.1 1235.2L1808.9 1243.7H1687.1Z" fill="#fdd0b8"/><path d="M1596.4 1226.7H1683.3L1687.5 1235.2L1683.3 1243.7H1596.4Z" fill="#f2f5b8"/><path d="M1513.1 1226.7H1591.2L1595.4 1235.2L1591.2 1243.7H1513.1Z" fill="#dcee92"/><path d="M1352.7 1226.7H1509.1L1513.3 1235.2L1509.1 1243.7H1352.7Z" fill="#fddde8"/><path d="M1307.6 1226.7H1333.6L1337.8 1235.2L1333.6 1243.7H1307.6Z" fill="#70c8e0"/><path d="M1021.6 1226.7H1264.1L1268.3 1235.2L1264.1 1243.7H1021.6Z" fill="#d8f0f6"/><path d="M914.6 1226.7H1015.6L1019.8 1235.2L1015.6 1243.7H914.6Z" fill="#c3dcea"/><path d="M878.1 1226.7H910.9L915.1 1235.2L910.9 1243.7H878.1Z" fill="#bfaee6"/><path d="M837 1226.7H876.9L881.1 1235.2L876.9 1243.7H837Z" fill="#f47caa"/>
<path d="M1812.6 1260H1831.7L1835.9 1268.5L1831.7 1277H1812.6Z" fill="#fbc888"/><path d="M1684.7 1260H1807.5L1811.7 1268.5L1807.5 1277H1684.7Z" fill="#fdd0b8"/><path d="M1595.4 1260H1681.8L1686 1268.5L1681.8 1277H1595.4Z" fill="#f2f5b8"/><path d="M1512.3 1260H1590.2L1594.4 1268.5L1590.2 1277H1512.3Z" fill="#dcee92"/><path d="M1351.9 1260H1508.1L1512.3 1268.5L1508.1 1277H1351.9Z" fill="#fddde8"/><path d="M1307.4 1260H1333.2L1337.4 1268.5L1333.2 1277H1307.4Z" fill="#70c8e0"/><path d="M1052.8 1260H1262.9L1267.1 1268.5L1262.9 1277H1052.8Z" fill="#d8f0f6"/>
<path d="M1812.6 1293.3H1831.7L1835.9 1301.8L1831.7 1310.3H1812.6Z" fill="#fbc888"/><path d="M1684.7 1293.3H1807.5L1811.7 1301.8L1807.5 1310.3H1684.7Z" fill="#fdd0b8"/><path d="M1595.4 1293.3H1681.8L1686 1301.8L1681.8 1310.3H1595.4Z" fill="#f2f5b8"/><path d="M1512.3 1293.3H1590.2L1594.4 1301.8L1590.2 1310.3H1512.3Z" fill="#dcee92"/><path d="M1351.9 1293.3H1508.1L1512.3 1301.8L1508.1 1310.3H1351.9Z" fill="#fddde8"/><path d="M1307.4 1293.3H1333.2L1337.4 1301.8L1333.2 1310.3H1307.4Z" fill="#70c8e0"/><path d="M1019.8 1293.3H1262.9L1267.1 1301.8L1262.9 1310.3H1019.8Z" fill="#d8f0f6"/><path d="M913.1 1293.3H1014.1L1018.3 1301.8L1014.1 1310.3H913.1Z" fill="#c3dcea"/><path d="M876.1 1293.3H909.1L913.3 1301.8L909.1 1310.3H876.1Z" fill="#bfaee6"/><path d="M814.9 1293.3H871.9L876.1 1301.8L871.9 1310.3H814.9Z" fill="#f47caa"/></g>
<path d="M1271.5 1026.7H1294.9L1300.1 1035.4L1294.9 1044.1H1271.5ZM1271.5 1060H1294.9L1300.1 1068.7L1294.9 1077.4H1271.5ZM1271.5 1093.3H1294.9L1300.1 1102L1294.9 1110.7H1271.5ZM1271.5 1126.6H1294.9L1300.1 1135.3L1294.9 1144H1271.5ZM1271.5 1159.9H1294.9L1300.1 1168.6L1294.9 1177.3H1271.5ZM1271.5 1193.2H1294.9L1300.1 1201.9L1294.9 1210.6H1271.5ZM1271.5 1226.5H1294.9L1300.1 1235.2L1294.9 1243.9H1271.5ZM1271.5 1259.8H1294.9L1300.1 1268.5L1294.9 1277.2H1271.5ZM1271.5 1293.1H1294.9L1300.1 1301.8L1294.9 1310.5H1271.5Z" fill="#cdcdcf" stroke="#0a0a0a" stroke-width="3.5" stroke-linejoin="miter"/>
<g font-size="22.9" font-style="italic"><text x="894" y="1020.2">rplT</text><text x="936" y="1020.2">pheS</text><text x="1103.4" y="1020.2">pheT</text><text x="1294.3" y="1020.2">zapA</text><text x="827.2" y="1055">infC</text><text x="1523.9" y="1055">ymdB</text><text x="1611.5" y="1055">folD</text><text x="1720.6" y="1220.7">xseA</text><text x="1800.1" y="1220.7">xseB</text></g>
<g stroke="#707070" stroke-width="1.1" stroke-linejoin="miter"><path d="M1478.8 1363.7H1547.5L1554.9 1372.5L1547.5 1381.2H1478.8Z" fill="#f25468"/><path d="M1339.6 1363.7H1358.7L1366.1 1372.5L1358.7 1381.2H1339.6Z" fill="#cccccc"/><path d="M1090.9 1363.7H1338.5L1345.9 1372.5L1338.5 1381.2H1090.9Z" fill="#c8daf3"/>
<path d="M1936.9 1392.2H2032.7L2040.1 1401L2032.7 1409.8H1936.9Z" fill="#fee6ea"/><path d="M1871.7 1392.2H1927L1934.4 1401L1927 1409.8H1871.7Z" fill="#fec8c8"/><path d="M1801.7 1392.2H1858.3L1865.7 1401L1858.3 1409.8H1801.7Z" fill="#fda69c"/><path d="M1728.2 1392.2H1793.6L1801 1401L1793.6 1409.8H1728.2Z" fill="#fd8680"/><path d="M1620.2 1392.2H1720.3L1727.7 1401L1720.3 1409.8H1620.2Z" fill="#f56670"/><path d="M1477.8 1392.2H1602.9L1610.3 1401L1602.9 1409.8H1477.8Z" fill="#f25468"/><path d="M1357.8 1392.2H1365.5L1372.9 1401L1365.5 1409.8H1357.8Z" fill="#cccccc"/><path d="M1326.8 1392.2H1347.3L1354.7 1401L1347.3 1409.8H1326.8Z" fill="#cccccc"/><path d="M1061.9 1392.2H1312.8L1320.2 1401L1312.8 1409.8H1061.9Z" fill="#c8daf3"/><path d="M982.8 1392.2H1023.3L1030.7 1401L1023.3 1409.8H982.8Z" fill="#a8ccec"/><path d="M843.1 1392.2H968.7L976.1 1401L968.7 1409.8H843.1Z" fill="#fedede"/><path d="M796.8 1392.2H835L842.4 1401L835 1409.8H796.8Z" fill="#fdaec8"/>
<path d="M1464 1420.8H1577.2L1584.6 1429.5L1577.2 1438.3H1464Z" fill="#f25468"/><path d="M1315 1420.8H1334.7L1342.1 1429.5L1334.7 1438.3H1315Z" fill="#cccccc"/><path d="M1039.7 1420.8H1306.3L1313.7 1429.5L1306.3 1438.3H1039.7Z" fill="#c8daf3"/><path d="M962 1420.8H1005.9L1013.3 1429.5L1005.9 1438.3H962Z" fill="#a8ccec"/><path d="M813.7 1420.8H939.2L946.6 1429.5L939.2 1438.3H813.7Z" fill="#fedede"/><path d="M767.8 1420.8H806.8L814.2 1429.5L806.8 1438.3H767.8Z" fill="#fdaec8"/>
<path d="M1915.8 1449.4H2011.8L2019.2 1458.1L2011.8 1466.9H1915.8Z" fill="#fee6ea"/><path d="M1842.8 1449.4H1898.1L1905.5 1458.1L1898.1 1466.9H1842.8Z" fill="#fec8c8"/><path d="M1776.3 1449.4H1834.4L1841.8 1458.1L1834.4 1466.9H1776.3Z" fill="#fda69c"/><path d="M1703.3 1449.4H1768.1L1775.5 1458.1L1768.1 1466.9H1703.3Z" fill="#fd8680"/><path d="M1610.9 1449.4H1695.4L1702.8 1458.1L1695.4 1466.9H1610.9Z" fill="#f56670"/><path d="M1485.9 1449.4H1602.4L1609.8 1458.1L1602.4 1466.9H1485.9Z" fill="#f25468"/><path d="M1327.8 1449.4H1345.6L1353 1458.1L1345.6 1466.9H1327.8Z" fill="#cccccc"/>
<path d="M1919 1477.9H2015.6L2023 1486.7L2015.6 1495.4H1919Z" fill="#fee6ea"/><path d="M1846.8 1477.9H1902.3L1909.7 1486.7L1902.3 1495.4H1846.8Z" fill="#fec8c8"/><path d="M1820.9 1477.9H1838.1L1845.5 1486.7L1838.1 1495.4H1820.9Z" fill="#fda69c"/><path d="M1792.4 1477.9H1816L1823.4 1486.7L1816 1495.4H1792.4Z" fill="#fda69c"/><path d="M1719.1 1477.9H1784.3L1791.7 1486.7L1784.3 1495.4H1719.1Z" fill="#fd8680"/><path d="M1610.9 1477.9H1711.2L1718.6 1486.7L1711.2 1495.4H1610.9Z" fill="#f56670"/><path d="M1485.9 1477.9H1602.4L1609.8 1486.7L1602.4 1495.4H1485.9Z" fill="#f25468"/><path d="M1323.8 1477.9H1345.6L1353 1486.7L1345.6 1495.4H1323.8Z" fill="#cccccc"/><path d="M1281 1477.9H1308.3L1315.7 1486.7L1308.3 1495.4H1281Z" fill="#cccccc"/>
<path d="M1792.4 1506.5H1825.5L1832.9 1515.2L1825.5 1524H1792.4Z" fill="#fda69c"/><path d="M1719.1 1506.5H1784.3L1791.7 1515.2L1784.3 1524H1719.1Z" fill="#fd8680"/><path d="M1610.9 1506.5H1711.2L1718.6 1515.2L1711.2 1524H1610.9Z" fill="#f56670"/><path d="M1467.8 1506.5H1602.4L1609.8 1515.2L1602.4 1524H1467.8Z" fill="#f25468"/><path d="M1325.8 1506.5H1345.6L1353 1515.2L1345.6 1524H1325.8Z" fill="#cccccc"/><path d="M1241.2 1506.5H1315.4L1322.8 1515.2L1315.4 1524H1241.2Z" fill="#c8daf3"/><path d="M1060.6 1506.5H1235.8L1243.2 1515.2L1235.8 1524H1060.6Z" fill="#c8daf3"/><path d="M979.8 1506.5H1026.3L1033.7 1515.2L1026.3 1524H979.8Z" fill="#a8ccec"/><path d="M838.8 1506.5H964.6L972 1515.2L964.6 1524H838.8Z" fill="#fedede"/><path d="M793.3 1506.5H830.7L838.1 1515.2L830.7 1524H793.3Z" fill="#fdaec8"/>
<path d="M1580.6 1535H1588.3L1595.7 1543.8L1588.3 1552.5H1580.6Z" fill="#cccccc"/><path d="M1456.7 1535H1571.9L1579.3 1543.8L1571.9 1552.5H1456.7Z" fill="#f25468"/>
<path d="M1486.9 1563.5H1510.7L1518.1 1572.3L1510.7 1581H1486.9Z" fill="#f25468"/><path d="M1325.8 1563.5H1345.6L1353 1572.3L1345.6 1581H1325.8Z" fill="#cccccc"/><path d="M1242.7 1563.5H1315.4L1322.8 1572.3L1315.4 1581H1242.7Z" fill="#c8daf3"/>
<path d="M1487.9 1592.1H1545.7L1553.1 1600.9L1545.7 1609.6H1487.9Z" fill="#f25468"/><path d="M1327.5 1592.1H1346.8L1354.2 1600.9L1346.8 1609.6H1327.5Z" fill="#cccccc"/><path d="M1311.2 1592.1H1317.6L1325 1600.9L1317.6 1609.6H1311.2Z" fill="#cccccc"/><path d="M1073.2 1592.1H1302.8L1310.2 1600.9L1302.8 1609.6H1073.2Z" fill="#c8daf3"/>
<path d="M1482.9 1620.7H1541.2L1548.6 1629.4L1541.2 1638.2H1482.9Z" fill="#f25468"/><path d="M1327 1620.7H1346.6L1354 1629.4L1346.6 1638.2H1327Z" fill="#cccccc"/><path d="M1145 1620.7H1318.4L1325.8 1629.4L1318.4 1638.2H1145Z" fill="#c8daf3"/>
<path d="M1929.1 1649.2H2003.8L2011.2 1658L2003.8 1666.7H1929.1Z" fill="#fee6ea"/><path d="M1860.6 1649.2H1916.2L1923.6 1658L1916.2 1666.7H1860.6Z" fill="#fec8c8"/><path d="M1795.4 1649.2H1852.5L1859.9 1658L1852.5 1666.7H1795.4Z" fill="#fda69c"/><path d="M1720.7 1649.2H1787.3L1794.7 1658L1787.3 1666.7H1720.7Z" fill="#fd8680"/><path d="M1612.1 1649.2H1712.8L1720.2 1658L1712.8 1666.7H1612.1Z" fill="#f56670"/><path d="M1482.9 1649.2H1603.6L1611 1658L1603.6 1666.7H1482.9Z" fill="#f25468"/><path d="M1327 1649.2H1346.8L1354.2 1658L1346.8 1666.7H1327Z" fill="#cccccc"/><path d="M1059.9 1649.2H1318.4L1325.8 1658L1318.4 1666.7H1059.9Z" fill="#c8daf3"/>
<path d="M1924.8 1677.8H2013.9L2021.3 1686.5L2013.9 1695.2H1924.8Z" fill="#fee6ea"/><path d="M1857.6 1677.8H1912.9L1920.3 1686.5L1912.9 1695.2H1857.6Z" fill="#fec8c8"/><path d="M1792.7 1677.8H1849.2L1856.6 1686.5L1849.2 1695.2H1792.7Z" fill="#fda69c"/><path d="M1717.1 1677.8H1784.3L1791.7 1686.5L1784.3 1695.2H1717.1Z" fill="#fd8680"/><path d="M1609.1 1677.8H1709L1716.4 1686.5L1709 1695.2H1609.1Z" fill="#f56670"/><path d="M1486.9 1677.8H1600.9L1608.3 1686.5L1600.9 1695.2H1486.9Z" fill="#f25468"/><path d="M1326 1677.8H1351.1L1358.5 1686.5L1351.1 1695.2H1326Z" fill="#cccccc"/><path d="M1053.8 1677.8H1317.6L1325 1686.5L1317.6 1695.2H1053.8Z" fill="#c8daf3"/><path d="M958.2 1677.8H1003.9L1011.3 1686.5L1003.9 1695.2H958.2Z" fill="#a8ccec"/><path d="M816.9 1677.8H942.7L950.1 1686.5L942.7 1695.2H816.9Z" fill="#fedede"/><path d="M770.9 1677.8H809.3L816.7 1686.5L809.3 1695.2H770.9Z" fill="#fdaec8"/>
<path d="M1924.8 1706.3H2023.2L2030.6 1715.1L2023.2 1723.8H1924.8Z" fill="#fee6ea"/><path d="M1857.6 1706.3H1912.9L1920.3 1715.1L1912.9 1723.8H1857.6Z" fill="#fec8c8"/><path d="M1792.7 1706.3H1849.2L1856.6 1715.1L1849.2 1723.8H1792.7Z" fill="#fda69c"/><path d="M1717.1 1706.3H1784.3L1791.7 1715.1L1784.3 1723.8H1717.1Z" fill="#fd8680"/><path d="M1609.1 1706.3H1709L1716.4 1715.1L1709 1723.8H1609.1Z" fill="#f56670"/><path d="M1486.9 1706.3H1600.9L1608.3 1715.1L1600.9 1723.8H1486.9Z" fill="#f25468"/><path d="M1326 1706.3H1351.1L1358.5 1715.1L1351.1 1723.8H1326Z" fill="#cccccc"/><path d="M1053.8 1706.3H1317.6L1325 1715.1L1317.6 1723.8H1053.8Z" fill="#c8daf3"/><path d="M958.2 1706.3H1003.9L1011.3 1715.1L1003.9 1723.8H958.2Z" fill="#a8ccec"/><path d="M816.9 1706.3H942.7L950.1 1715.1L942.7 1723.8H816.9Z" fill="#fedede"/><path d="M770.9 1706.3H809.3L816.7 1715.1L809.3 1723.8H770.9Z" fill="#fdaec8"/>
<path d="M1717.1 1734.9H1757.1L1764.5 1743.6L1757.1 1752.4H1717.1Z" fill="#cccccc"/><path d="M1609.1 1734.9H1709L1716.4 1743.6L1709 1752.4H1609.1Z" fill="#f56670"/><path d="M1486.9 1734.9H1600.9L1608.3 1743.6L1600.9 1752.4H1486.9Z" fill="#f25468"/><path d="M1326 1734.9H1351.1L1358.5 1743.6L1351.1 1752.4H1326Z" fill="#cccccc"/><path d="M1276.9 1734.9H1317.6L1325 1743.6L1317.6 1752.4H1276.9Z" fill="#c8daf3"/>
<path d="M1924.8 1763.4H2023.2L2030.6 1772.2L2023.2 1780.9H1924.8Z" fill="#fee6ea"/><path d="M1857.6 1763.4H1912.9L1920.3 1772.2L1912.9 1780.9H1857.6Z" fill="#fec8c8"/><path d="M1792.7 1763.4H1849.2L1856.6 1772.2L1849.2 1780.9H1792.7Z" fill="#fda69c"/><path d="M1717.1 1763.4H1784.3L1791.7 1772.2L1784.3 1780.9H1717.1Z" fill="#fd8680"/><path d="M1609.1 1763.4H1709L1716.4 1772.2L1709 1780.9H1609.1Z" fill="#f56670"/><path d="M1486.9 1763.4H1600.9L1608.3 1772.2L1600.9 1780.9H1486.9Z" fill="#f25468"/><path d="M1326 1763.4H1351.1L1358.5 1772.2L1351.1 1780.9H1326Z" fill="#cccccc"/><path d="M1053.8 1763.4H1317.6L1325 1772.2L1317.6 1780.9H1053.8Z" fill="#c8daf3"/><path d="M955.9 1763.4H1004.7L1012.1 1772.2L1004.7 1780.9H955.9Z" fill="#a8ccec"/><path d="M814.7 1763.4H940.2L947.6 1772.2L940.2 1780.9H814.7Z" fill="#fedede"/><path d="M768.6 1763.4H807.5L814.9 1772.2L807.5 1780.9H768.6Z" fill="#fdaec8"/>
<path d="M1478.8 1792H1500.9L1508.3 1800.7L1500.9 1809.5H1478.8Z" fill="#f25468"/><path d="M1322 1792H1341.8L1349.2 1800.7L1341.8 1809.5H1322Z" fill="#cccccc"/><path d="M1051.3 1792H1307.1L1314.5 1800.7L1307.1 1809.5H1051.3Z" fill="#c8daf3"/><path d="M954.7 1792H1000.6L1008 1800.7L1000.6 1809.5H954.7Z" fill="#a8ccec"/><path d="M807.9 1792H933.2L940.6 1800.7L933.2 1809.5H807.9Z" fill="#fedede"/><path d="M760.8 1792H799.7L807.1 1800.7L799.7 1809.5H760.8Z" fill="#fdaec8"/>
<path d="M1928.4 1820.5H2024.4L2031.8 1829.2L2024.4 1838H1928.4Z" fill="#fee6ea"/><path d="M1861.9 1820.5H1917.4L1924.8 1829.2L1917.4 1838H1861.9Z" fill="#fec8c8"/><path d="M1796.9 1820.5H1853.7L1861.1 1829.2L1853.7 1838H1796.9Z" fill="#fda69c"/><path d="M1723.9 1820.5H1788.5L1795.9 1829.2L1788.5 1838H1723.9Z" fill="#fd8680"/><path d="M1615.9 1820.5H1715.8L1723.2 1829.2L1715.8 1838H1615.9Z" fill="#f56670"/><path d="M1478.8 1820.5H1607.4L1614.8 1829.2L1607.4 1838H1478.8Z" fill="#f25468"/><path d="M1322 1820.5H1341.8L1349.2 1829.2L1341.8 1838H1322Z" fill="#cccccc"/><path d="M1051.3 1820.5H1307.1L1314.5 1829.2L1307.1 1838H1051.3Z" fill="#c8daf3"/><path d="M954.7 1820.5H1000.6L1008 1829.2L1000.6 1838H954.7Z" fill="#a8ccec"/><path d="M807.9 1820.5H933.2L940.6 1829.2L933.2 1838H807.9Z" fill="#fedede"/><path d="M760.8 1820.5H799.7L807.1 1829.2L799.7 1838H760.8Z" fill="#fdaec8"/>
<path d="M1478.8 1849.1H1607.9L1615.3 1857.8L1607.9 1866.6H1478.8Z" fill="#f25468"/><path d="M1322 1849.1H1341.8L1349.2 1857.8L1341.8 1866.6H1322Z" fill="#cccccc"/><path d="M1051.3 1849.1H1307.1L1314.5 1857.8L1307.1 1866.6H1051.3Z" fill="#c8daf3"/><path d="M954.7 1849.1H1000.6L1008 1857.8L1000.6 1866.6H954.7Z" fill="#a8ccec"/><path d="M814.9 1849.1H933.2L940.6 1857.8L933.2 1866.6H814.9Z" fill="#fedede"/><path d="M774.9 1849.1H807.3L814.7 1857.8L807.3 1866.6H774.9Z" fill="#fdaec8"/>
<path d="M1928.4 1877.6H2024.4L2031.8 1886.3L2024.4 1895.1H1928.4Z" fill="#fee6ea"/><path d="M1861.9 1877.6H1917.4L1924.8 1886.3L1917.4 1895.1H1861.9Z" fill="#fec8c8"/><path d="M1796.9 1877.6H1853.7L1861.1 1886.3L1853.7 1895.1H1796.9Z" fill="#fda69c"/><path d="M1723.9 1877.6H1788.5L1795.9 1886.3L1788.5 1895.1H1723.9Z" fill="#fd8680"/><path d="M1615.9 1877.6H1715.8L1723.2 1886.3L1715.8 1895.1H1615.9Z" fill="#f56670"/><path d="M1478.8 1877.6H1607.4L1614.8 1886.3L1607.4 1895.1H1478.8Z" fill="#f25468"/><path d="M1320.7 1877.6H1340.3L1347.7 1886.3L1340.3 1895.1H1320.7Z" fill="#cccccc"/><path d="M1049.8 1877.6H1305.8L1313.2 1886.3L1305.8 1895.1H1049.8Z" fill="#c8daf3"/><path d="M953.1 1877.6H999.1L1006.5 1886.3L999.1 1895.1H953.1Z" fill="#a8ccec"/><path d="M806.4 1877.6H931.9L939.3 1886.3L931.9 1895.1H806.4Z" fill="#fedede"/><path d="M759.5 1877.6H798.5L805.9 1886.3L798.5 1895.1H759.5Z" fill="#fdaec8"/>
<path d="M1320.7 1906.2H1340.3L1347.7 1914.9L1340.3 1923.7H1320.7Z" fill="#cccccc"/><path d="M1144.7 1906.2H1305.8L1313.2 1914.9L1305.8 1923.7H1144.7Z" fill="#c8daf3"/></g>
<path d="M1372 1363.5H1455.9L1463.8 1372.5L1455.9 1381.4H1372ZM1372 1392H1455.9L1463.8 1401L1455.9 1410H1372ZM1372 1420.6H1455.9L1463.8 1429.5L1455.9 1438.5H1372ZM1372 1449.2H1455.9L1463.8 1458.1L1455.9 1467.1H1372ZM1372 1477.7H1455.9L1463.8 1486.7L1455.9 1495.6H1372ZM1372 1506.2H1455.9L1463.8 1515.2L1455.9 1524.2H1372ZM1372 1534.8H1426.2L1434.1 1543.8L1426.2 1552.7H1372ZM1372 1563.3H1455.9L1463.8 1572.3L1455.9 1581.2H1372ZM1372 1591.9H1455.9L1463.8 1600.9L1455.9 1609.8H1372ZM1372 1620.5H1455.9L1463.8 1629.4L1455.9 1638.4H1372ZM1372 1649H1455.9L1463.8 1658L1455.9 1666.9H1372ZM1372 1677.5H1455.9L1463.8 1686.5L1455.9 1695.5H1372ZM1372 1706.1H1455.9L1463.8 1715.1L1455.9 1724H1372ZM1372 1734.7H1455.9L1463.8 1743.6L1455.9 1752.6H1372ZM1372 1763.2H1455.9L1463.8 1772.2L1455.9 1781.1H1372ZM1372 1791.8H1455.9L1463.8 1800.7L1455.9 1809.7H1372ZM1372 1820.3H1455.9L1463.8 1829.2L1455.9 1838.2H1372ZM1372 1848.9H1455.9L1463.8 1857.8L1455.9 1866.8H1372ZM1372 1877.4H1455.9L1463.8 1886.3L1455.9 1895.3H1372Z" fill="#cdcdcf" stroke="#0a0a0a" stroke-width="3.5" stroke-linejoin="miter"/>
<g font-size="22.9" font-style="italic"><text x="1491.4" y="1358.1">rnfC</text><text x="1648.6" y="1386.5">rnfD</text><text x="1739.7" y="1385.4">rnfG</text><text x="1806.2" y="1385.4">rnfE</text><text x="1876.4" y="1384.4">rnfA</text><text x="1964.3" y="1383">rnfB</text></g>
<path d="M1371.9 1905.2L1380.4 1914.7L1371.9 1924.1Z" fill="#cdcdcf" stroke="#0a0a0a" stroke-width="3.3" stroke-linejoin="miter" stroke-miterlimit="1.6"/>
<path d="M25.5 700V810.7M66.5 764.5V853.8M107.5 813.3V892.3M148.3 862.1V920.5M189.1 894.4V944.9M229.9 926.6V961.3M66.5 852.7H101M107.5 814.4H116M107.5 891.2H142M148.3 863.2H180M148.3 919.4H183M189.1 895.5H221M189.1 943.8H224M229.9 927.7H245" stroke="#555" stroke-width="2.5" fill="none"/>
<path d="M148.3 797.2V831.9" stroke="#555" stroke-width="1.7" fill="none"/>
<path d="M27.5 701.1H56M27.5 733.3H56M27.5 809.6H60M68.5 765.6H97M119 814.4H142M150.3 798.3H179M150.3 830.8H179M248 927.7H261M231.9 960.2H261" stroke="#555" stroke-width="2.5" stroke-dasharray="3 3.5" fill="none"/>
<g fill="#fff" stroke="#6878c8" stroke-width="2.6"><circle cx="25.9" cy="748.2" r="6.1"/><circle cx="66.7" cy="809.6" r="6.1"/><circle cx="107.5" cy="852.7" r="6.1"/><circle cx="148.3" cy="814.4" r="6.1"/><circle cx="148.3" cy="891.2" r="6.1"/><circle cx="189.1" cy="919.4" r="6.1"/><circle cx="229.9" cy="943.8" r="6.1"/></g>
<g fill="#4549a9"><circle cx="66.7" cy="701.1" r="10.1"/><circle cx="66.7" cy="733.3" r="10.1"/><circle cx="107.5" cy="765.6" r="10.1"/><circle cx="189.1" cy="798.3" r="10.1"/><circle cx="189.1" cy="830.8" r="10.1"/><circle cx="189.1" cy="863.2" r="10.1"/><circle cx="229.9" cy="895.5" r="10.1"/><circle cx="270.9" cy="927.7" r="10.1"/><circle cx="270.9" cy="960.2" r="10.1"/></g>
<g font-size="22.9" text-anchor="end"><text x="70.3" y="806.4" fill="#a51950">0.82</text><text x="70.1" y="829.8">0.01</text><text x="111.1" y="849.5" fill="#a51950">0.98</text><text x="110.9" y="872.9">0.31</text><text x="151.9" y="811.2" fill="#a51950">1.00</text><text x="151.7" y="834.6">0.10</text><text x="151.9" y="888" fill="#a51950">0.98</text><text x="151.7" y="911.4">0.39</text><text x="192.7" y="916.2" fill="#a51950">0.98</text><text x="192.5" y="939.6">0.42</text><text x="233.5" y="943" fill="#a51950">0.93</text><text x="233.3" y="964">0.27</text></g>
<g font-size="25.6"><text x="98" y="707.4">Meg22_46_Bin_213_scaffold_11928_5</text><text x="99.4" y="739.6">Meg22_24_Bin_124_scaffold_13279_6</text><text x="136.4" y="771.9">Meg22_02_Bin_84_scaffold_19461_2</text><text x="222" y="804.6">Meg22_46_Bin_11_scaffold_100887_2</text><text x="221.3" y="837.1">Meg19_1012_Bin_119_scaffold_6483_17</text><text x="220.5" y="869.5">SY70-4-11_Bin_40_scaffold_75567_2</text><text x="261" y="901.8">M8-62_Bin_326_scaffold_397011_2</text><text x="300.2" y="934">M8-62_Bin_157_scaffold_7133_1</text><text x="302" y="966.5">M3-38_Bin_215_scaffold_48783_5</text></g>
<text x="14.6" y="686.5" font-size="24">c</text>
<text x="51" y="951.6" font-size="25.5">0.2</text>
<line x1="58.3" y1="960.4" x2="77" y2="960.4" stroke="#111" stroke-width="3"/>
<path d="M26.4 1025.7V1230.3M74.3 1060.1V1122.5M122.6 1094.6V1148.5M74.3 1197.9V1261.2M122.6 1232.6V1286.9M26.4 1026.8H52M26.4 1091.2H34M26.4 1229.2H30M74.3 1061.2H113M74.3 1121.4H116M122.6 1095.7H136M122.6 1147.4H155M74.3 1199H95M122.6 1233.7H137M122.6 1285.8H164" stroke="#555" stroke-width="2.5" fill="none"/>
<path d="M170.9 1129.4V1165.8M170.9 1267.4V1304" stroke="#555" stroke-width="1.7" fill="none"/>
<path d="M55 1026.8H64M37 1091.2H68M33 1229.2H68M139 1095.7H161M158 1147.4H164M172.9 1130.5H209M172.9 1164.7H209M98 1199H113M76.3 1260.1H116M140 1233.7H161M172.9 1268.5H209M172.9 1302.9H209" stroke="#555" stroke-width="2.5" stroke-dasharray="3.4 4.8" fill="none"/>
<g fill="#fff" stroke="#6878c8" stroke-width="2.6"><circle cx="26.9" cy="1115.9" r="6.1"/><circle cx="74.8" cy="1091.2" r="6.1"/><circle cx="122.6" cy="1121.4" r="6.1"/><circle cx="170.7" cy="1147.4" r="6.1"/><circle cx="74.8" cy="1229.2" r="6.1"/><circle cx="122.6" cy="1260.1" r="6.1"/><circle cx="170.7" cy="1285.8" r="6.1"/></g>
<g fill="#4ba3cc"><circle cx="74.5" cy="1026.8" r="10.1"/><circle cx="122.9" cy="1061.2" r="10.1"/><circle cx="170.7" cy="1095.7" r="10.1"/><circle cx="218.8" cy="1130.5" r="10.1"/><circle cx="218.8" cy="1164.7" r="10.1"/><circle cx="122.9" cy="1199" r="10.1"/><circle cx="170.7" cy="1233.7" r="10.1"/><circle cx="218.8" cy="1268.5" r="10.1"/><circle cx="218.8" cy="1302.9" r="10.1"/></g>
<g font-size="22.6" text-anchor="end"><text x="73.1" y="1086.5" fill="#a51950">0.53</text><text x="72.1" y="1110.2">0.10</text><text x="123" y="1116.7" fill="#a51950">0.99</text><text x="122" y="1140.4">0.51</text><text x="172.3" y="1142.7" fill="#a51950">1.00</text><text x="171.3" y="1166.4">0.35</text><text x="73.9" y="1224.5" fill="#a51950">0.77</text><text x="72.9" y="1248.2">0.06</text><text x="121.7" y="1253.7" fill="#a51950">0.47</text><text x="120.7" y="1277.4">0.04</text><text x="169.8" y="1278.9" fill="#a51950">1.00</text><text x="168.8" y="1304.8">0.41</text></g>
<g font-size="25.6"><text x="103.2" y="1036">SY70-4-3_Bin_44_scaffold_67139_3</text><text x="151.1" y="1070.1">Meg22_1214_Bin_137_scaffold_30029_5</text><text x="201.1" y="1104.3">BHB10-38_Bin_186_scaffold_338152_2</text><text x="250.9" y="1138.8">Meg22_1214_Bin_176_scaffold_40989_2</text><text x="252" y="1172.7">Meg22_1012_Bin_348_scaffold_37350_3</text><text x="157" y="1206.7">BHB10-38_Bin_9_scaffold_107848_3</text><text x="202.3" y="1241.1">M3-30_Bin_374_scaffold_8455_5</text><text x="252" y="1275.6">Meg22_46_Bin_89_scaffold_6133_2</text><text x="252" y="1309.7">Meg22_24_Bin_129_scaffold_542_20</text></g>
<text x="14.3" y="1015.9" font-size="24">d</text>
<path d="M24.5 1430V1798.6M79.3 1390.6V1471.8M134.6 1375.8V1406.3M134.6 1432.4V1508.8M189.4 1474.9V1540.5M79.3 1602.2V1646.8M79.3 1729.3V1865.9M134.6 1701V1759.8M24.5 1431.1H30M24.5 1624.4H28M24.5 1797.5H28M79.3 1391.7H128M79.3 1470.7H128M134.6 1433.5H145M134.6 1507.7H147M189.4 1476H198M79.3 1603.3H102M79.3 1730.4H100M79.3 1864.8H93" stroke="#555" stroke-width="2.5" fill="none"/>
<path d="M244.5 1460.7V1491.2M244.5 1517.3V1562M299.8 1545.6V1576.1M134.6 1630.5V1661M189.4 1687.1V1717.6M189.4 1743.7V1774.2M134.6 1828.1V1901M189.4 1800.3V1859.1M189.4 1885.2V1915.7" stroke="#555" stroke-width="1.7" fill="none"/>
<path d="M33 1431.1H73M31 1624.4H73M31 1797.5H73M136.6 1376.9H179M136.6 1405.2H179M148 1433.5H179M150 1507.7H183M201 1476H238M191.4 1539.4H238M246.5 1461.8H289M246.5 1490.1H289M246.5 1518.4H289M246.5 1560.9H293M301.8 1546.7H343M301.8 1575H343M105 1603.3H124M81.3 1645.7H128M136.6 1631.6H179M136.6 1659.9H179M103 1730.4H128M96 1864.8H128M136.6 1702.1H183M136.6 1758.7H183M191.4 1688.2H234M191.4 1716.5H234M191.4 1744.8H234M191.4 1773.1H234M136.6 1829.2H183M136.6 1899.9H183M191.4 1801.4H234M191.4 1829.7H234M191.4 1858H234M191.4 1886.3H234M191.4 1914.6H234" stroke="#555" stroke-width="2.5" stroke-dasharray="4.2 4.5" fill="none"/>
<g fill="#fff" stroke="#6878c8" stroke-width="2.6"><circle cx="24.5" cy="1617.6" r="6.1"/><circle cx="79.8" cy="1431.1" r="6.1"/><circle cx="134.6" cy="1391.7" r="6.1"/><circle cx="134.6" cy="1470.7" r="6.1"/><circle cx="189.4" cy="1507.7" r="6.1"/><circle cx="244.7" cy="1476" r="6.1"/><circle cx="244.7" cy="1539.4" r="6.1"/><circle cx="299.8" cy="1560.9" r="6.1"/><circle cx="79.8" cy="1624.4" r="6.1"/><circle cx="134.6" cy="1645.7" r="6.1"/><circle cx="79.8" cy="1797.5" r="6.1"/><circle cx="134.6" cy="1730.4" r="6.1"/><circle cx="189.4" cy="1702.1" r="6.1"/><circle cx="189.4" cy="1758.7" r="6.1"/><circle cx="134.6" cy="1864.8" r="6.1"/><circle cx="189.4" cy="1829.2" r="6.1"/><circle cx="189.4" cy="1899.9" r="6.1"/></g>
<g fill="#fc929e"><circle cx="189.4" cy="1376.9" r="10.1"/><circle cx="189.4" cy="1405.2" r="10.1"/><circle cx="189.4" cy="1433.5" r="10.1"/><circle cx="299.6" cy="1461.8" r="10.1"/><circle cx="299.6" cy="1490.1" r="10.1"/><circle cx="299.6" cy="1518.4" r="10.1"/><circle cx="354" cy="1546.7" r="10.1"/><circle cx="354" cy="1575" r="10.1"/><circle cx="134.6" cy="1603.3" r="10.1"/><circle cx="189.4" cy="1631.6" r="10.1"/><circle cx="189.4" cy="1659.9" r="10.1"/><circle cx="244.3" cy="1688.2" r="10.1"/><circle cx="244.3" cy="1716.5" r="10.1"/><circle cx="244.3" cy="1744.8" r="10.1"/><circle cx="244.3" cy="1773.1" r="10.1"/><circle cx="244.3" cy="1801.4" r="10.1"/><circle cx="244.3" cy="1829.7" r="10.1"/><circle cx="244.3" cy="1858" r="10.1"/><circle cx="244.3" cy="1886.3" r="10.1"/><circle cx="244.3" cy="1914.6" r="10.1"/></g>
<g font-size="22.5" text-anchor="end"><text x="77.7" y="1425.9" fill="#a51950">0.84</text><text x="76.7" y="1448.7">0.10</text><text x="132.5" y="1386.5" fill="#a51950">1.00</text><text x="131.5" y="1409.3">0.43</text><text x="132.5" y="1465.5" fill="#a51950">1.00</text><text x="131.5" y="1488.3">0.58</text><text x="187.3" y="1502.5" fill="#a51950">0.98</text><text x="186.3" y="1525.3">0.14</text><text x="242.6" y="1470.8" fill="#a51950">0.99</text><text x="241.6" y="1493.6">0.08</text><text x="242.6" y="1534.2" fill="#a51950">0.32</text><text x="241.6" y="1557">0.04</text><text x="297.7" y="1555.7" fill="#a51950">0.88</text><text x="296.7" y="1578.5">0.02</text><text x="77.7" y="1619.2" fill="#a51950">0.16</text><text x="76.7" y="1642">0.03</text><text x="132.5" y="1640.5" fill="#a51950">0.99</text><text x="131.5" y="1663.3">0.12</text><text x="77.7" y="1792.3" fill="#a51950">0.35</text><text x="76.7" y="1815.1">0.05</text><text x="132.5" y="1725.2" fill="#a51950">1.00</text><text x="131.5" y="1748">0.23</text><text x="185" y="1696.9" fill="#a51950">NaN</text><text x="187.4" y="1719.7">0.06</text><text x="187.3" y="1753.5" fill="#a51950">0.98</text><text x="187.3" y="1776.3">0.05</text><text x="132.5" y="1859.6" fill="#a51950">1.00</text><text x="131.5" y="1882.4">0.13</text><text x="185" y="1824" fill="#a51950">NaN</text><text x="184" y="1846.8">6e-4</text><text x="187.8" y="1894.7" fill="#a51950">1.00</text><text x="184.3" y="1917.5">3e-3</text></g>
<g font-size="25.6"><text x="215.7" y="1383.1">SY70-5-8_Bin_74_scaffold_78684_2</text><text x="215.7" y="1411.5">SY70-5-12_Bin_1_scaffold_5_108</text><text x="218.4" y="1439.8">ex4484_8_scaffold_1457_2</text><text x="318.6" y="1468.2">SY70-5-8_Bin_20_scaffold_9387_17</text><text x="318.6" y="1496.6">SY70-5-5_Bin_6_scaffold_4888_17</text><text x="318.6" y="1525">SY70-5-5_Bin_6_scaffold_12435_5</text><text x="377.1" y="1553.3">Meg19_02_Bin_5_scaffold_190435_1</text><text x="377.1" y="1581.7">Meg19_02_Bin_5_scaffold_127675_2</text><text x="174.1" y="1610.1">Meg19_46_Bin_228_scaffold_170030_4</text><text x="226.3" y="1638.4">Meg22_46_Bin_45_scaffold_90989_3</text><text x="226.3" y="1666.8">Meg19_46_Bin_182_scaffold_13106_7</text><text x="279.7" y="1695.2">BHB10-38_Bin_124_scaffold_258_83</text><text x="279.7" y="1723.5">BHB10-26_Bin_369_scaffold_5406_16</text><text x="279.8" y="1751.9">Meg19_46_Bin_201_scaffold_57580_4</text><text x="280.7" y="1780.3">AB_69_Bin_103_scaffold_3265_8</text><text x="279.8" y="1808.7">Meg22_24_Bin_156_scaffold_7130_2</text><text x="279.8" y="1837">Meg19_46_Bin_247_scaffold_200_17</text><text x="279.8" y="1865.4">Meg19_1012_Bin_219_scaffold_47795_2</text><text x="279.8" y="1893.8">Meg22_46_Bin_130_scaffold_421_16</text><text x="280.7" y="1922.1">AB_69_Bin_159_scaffold_168223_1</text></g>
<text x="15" y="1397.5" font-size="24">e</text>
<text x="1812.2" y="879.8" font-size="25.2">1000 bp</text>
<line x1="1804.5" y1="891.1" x2="1907.9" y2="891.1" stroke="#111" stroke-width="2.6"/>
<circle cx="1720.2" cy="965" r="10.1" fill="#4549a9"/>
<text x="1741.6" y="960" font-size="25.65">Blakebacterota</text><text x="1741.6" y="990.2" font-size="25.65">(GB-CP11)</text>
<circle cx="1720.2" cy="1043" r="10.1" fill="#4ba3cc"/>
<text x="1741.6" y="1037.1" font-size="25.65">Arandabacterota</text><text x="1741.6" y="1067.1" font-size="25.65">(GB-CP13)</text>
<circle cx="1720.2" cy="1118.5" r="10.1" fill="#fc929e"/>
<text x="1741.6" y="1111.6" font-size="25.65">Joyebacterota</text><text x="1741.6" y="1142.3" font-size="25.65">(GB-CP14)</text>
</svg>
</body></html>
